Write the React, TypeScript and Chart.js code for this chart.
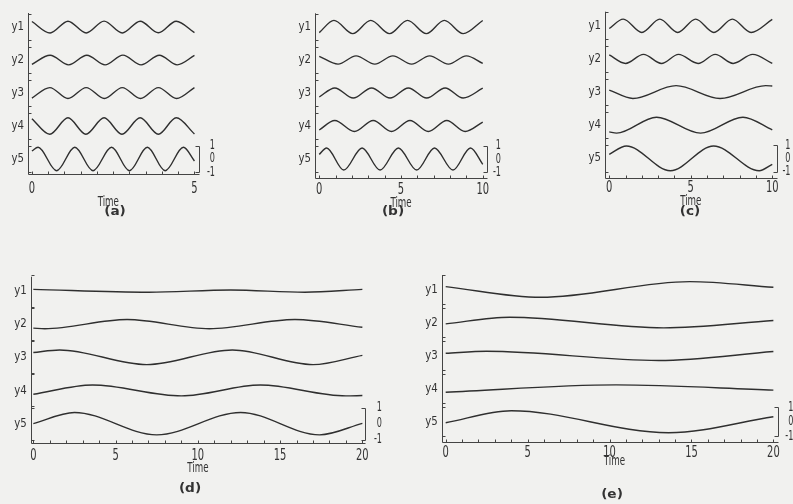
import React, { useEffect, useRef } from "react";
import { Chart, registerables } from "chart.js";

Chart.register(...registerables);

type Pt = [number, number];

// ---- Traces: [time, value] at the turning points of each response ----

// (a) 0..5
const A_Y1: Pt[] = [[0, 0.42], [0.56, -0.44], [1.11, 0.44], [1.67, -0.44], [2.22, 0.45], [2.78, -0.44], [3.33, 0.44], [3.89, -0.43], [4.44, 0.44], [5, -0.42]];
const A_Y2: Pt[] = [[0, -0.32], [0.56, 0.36], [1.13, -0.36], [1.69, 0.36], [2.25, -0.36], [2.8, 0.37], [3.36, -0.36], [3.92, 0.36], [4.47, -0.36], [5, 0.35]];
const A_Y3: Pt[] = [[0, -0.38], [0.55, 0.41], [1.11, -0.41], [1.67, 0.41], [2.23, -0.41], [2.78, 0.41], [3.34, -0.41], [3.89, 0.41], [4.45, -0.41], [5, 0.41]];
const A_Y4: Pt[] = [[0, 0.55], [0.55, -0.62], [1.11, 0.62], [1.66, -0.62], [2.22, 0.62], [2.77, -0.62], [3.33, 0.62], [3.89, -0.62], [4.44, 0.62], [5, -0.6]];
const A_Y5: Pt[] = [[0, 0.6], [0.19, 0.88], [0.76, -0.88], [1.32, 0.88], [1.88, -0.88], [2.45, 0.88], [3.0, -0.88], [3.55, 0.88], [4.1, -0.88], [4.66, 0.88], [5, -0.15]];

// (b) 0..10
const B_Y1: Pt[] = [[0, -0.42], [0.9, 0.5], [2.05, -0.5], [3.15, 0.5], [4.3, -0.5], [5.4, 0.5], [6.55, -0.5], [7.65, 0.5], [8.8, -0.5], [10, 0.49]];
const B_Y2: Pt[] = [[0, 0.28], [1.15, -0.31], [2.25, 0.31], [3.4, -0.31], [4.5, 0.31], [5.65, -0.31], [6.75, 0.31], [7.9, -0.31], [9.0, 0.31], [10, -0.25]];
const B_Y3: Pt[] = [[0, -0.3], [0.95, 0.38], [2.08, -0.38], [3.2, 0.38], [4.33, -0.38], [5.45, 0.38], [6.57, -0.38], [7.7, 0.38], [8.8, -0.38], [10, 0.36]];
const B_Y4: Pt[] = [[0, -0.3], [0.95, 0.41], [2.15, -0.41], [3.3, 0.41], [4.42, -0.41], [5.55, 0.41], [6.67, -0.41], [7.8, 0.41], [8.92, -0.41], [10, 0.3]];
const B_Y5: Pt[] = [[0, 0.35], [0.45, 0.83], [1.5, -0.83], [2.62, 0.83], [3.72, -0.83], [4.84, 0.83], [5.96, -0.83], [7.05, 0.83], [8.18, -0.83], [9.25, 0.83], [10, -0.4]];

// (c) 0..10
const C_Y1: Pt[] = [[0, -0.2], [0.86, 0.5], [2.0, -0.5], [3.1, 0.5], [4.2, -0.5], [5.3, 0.5], [6.42, -0.5], [7.55, 0.5], [8.7, -0.5], [10, 0.48]];
const C_Y2: Pt[] = [[0, 0.3], [1.0, -0.34], [2.1, 0.34], [3.2, -0.34], [4.25, 0.34], [5.45, -0.34], [6.5, 0.34], [7.6, -0.34], [8.8, 0.34], [10, -0.34]];
const C_Y3: Pt[] = [[0, 0.15], [1.45, -0.48], [4.1, 0.48], [6.8, -0.48], [9.6, 0.48], [10, 0.46]];
const C_Y4: Pt[] = [[0, -0.5], [0.45, -0.6], [2.9, 0.6], [5.6, -0.6], [8.2, 0.6], [10, -0.35]];
const C_Y5: Pt[] = [[0, 0.3], [1.05, 0.93], [3.75, -0.93], [6.4, 0.93], [9.2, -0.93], [10, -0.45]];

// (d) 0..20
const D_Y1: Pt[] = [[0, 0.1], [7, -0.08], [12, 0.06], [16.5, -0.08], [20, 0.1]];
const D_Y2: Pt[] = [[0, -0.25], [0.7, -0.29], [5.7, 0.29], [10.7, -0.29], [15.9, 0.29], [20, -0.2]];
const D_Y3: Pt[] = [[0, 0.3], [1.6, 0.46], [6.9, -0.46], [12.1, 0.46], [17, -0.46], [20, 0.12]];
const D_Y4: Pt[] = [[0, -0.24], [3.6, 0.34], [9.0, -0.34], [13.8, 0.34], [19, -0.34], [20, -0.32]];
const D_Y5: Pt[] = [[0, 0], [2.5, 0.7], [7.5, -0.7], [12.6, 0.7], [17.4, -0.7], [20, 0.02]];

// (e) 0..20
const E_Y1: Pt[] = [[0, 0.2], [5.8, -0.54], [14.9, 0.54], [20, 0.15]];
const E_Y2: Pt[] = [[0, -0.09], [3.9, 0.37], [13.3, -0.37], [20, 0.14]];
const E_Y3: Pt[] = [[0, 0.16], [2.5, 0.3], [13, -0.34], [20, 0.28]];
const E_Y4: Pt[] = [[0, -0.25], [10.4, 0.26], [20, -0.1]];
const E_Y5: Pt[] = [[0, -0.07], [4, 0.76], [13.6, -0.76], [20, 0.34]];

// ---- Labels ----
const ROW_LABELS = ["y1", "y2", "y3", "y4", "y5"];
const SCALE_VALUES = [1, 0, -1];
const SCALE_LABELS = ["1", "0", "-1"];
const TICKS_5 = [0, 5];
const TICKS_10 = [0, 5, 10];
const TICKS_20 = [0, 5, 10, 15, 20];
const AXIS_TITLE = "Time";

const BG = "#f1f1ef";
const INK = "#2f2f2f";
const AXIS_INK = "#444444";
const TEXT_INK = "#333333";

interface Panel {
  caption: string;
  captionAt: [number, number];
  box: [number, number, number, number]; // left, top, width, height (page px)
  area: [number, number, number, number]; // left, top, right, bottom (page px)
  x: [number, number];
  y: [number, number];
  step: number;
  series: Pt[][];
  ticks: number[];
  minor: number;
  tEnd: number;
  labelDy: number;
  titleDy: number;
  titleT: number;
  rightDx: number;
}

const PANELS: Panel[] = [
  {
    caption: "(a)", captionAt: [115, 212], box: [0, 0, 260, 225], area: [28, 13, 199, 174],
    x: [-0.12, 5.14], y: [-1.13, 10.98], step: 2.48, series: [A_Y1, A_Y2, A_Y3, A_Y4, A_Y5],
    ticks: TICKS_5, minor: 0.5, tEnd: 5, labelDy: 15, titleDy: 28, titleT: 2.35, rightDx: 16,
  },
  {
    caption: "(b)", captionAt: [393, 212], box: [260, 0, 260, 225], area: [315, 13.3, 487, 177.5],
    x: [-0.26, 10.26], y: [-1.39, 10.95], step: 2.48, series: [B_Y1, B_Y2, B_Y3, B_Y4, B_Y5],
    ticks: TICKS_10, minor: 1, tEnd: 10, labelDy: 12.5, titleDy: 26, titleT: 5, rightDx: 14,
  },
  {
    caption: "(c)", captionAt: [690, 212], box: [520, 0, 273, 225], area: [605, 11.7, 777, 178],
    x: [-0.26, 10.29], y: [-1.48, 11.02], step: 2.49, series: [C_Y1, C_Y2, C_Y3, C_Y4, C_Y5],
    ticks: TICKS_10, minor: 1, tEnd: 10, labelDy: 9.5, titleDy: 23.7, titleT: 5, rightDx: 13.5,
  },
  {
    caption: "(d)", captionAt: [190, 489], box: [0, 240, 400, 264], area: [30.7, 276.7, 365, 443.3],
    x: [-0.16, 20.16], y: [-1.23, 9.19], step: 2.075, series: [D_Y1, D_Y2, D_Y3, D_Y4, D_Y5],
    ticks: TICKS_20, minor: 1, tEnd: 20, labelDy: 12.7, titleDy: 24.7, titleT: 10, rightDx: 17,
  },
  {
    caption: "(e)", captionAt: [612, 495], box: [400, 240, 393, 264], area: [441.7, 275, 778.3, 441.7],
    x: [-0.244, 20.3], y: [-1.38, 10.12], step: 2.28, series: [E_Y1, E_Y2, E_Y3, E_Y4, E_Y5],
    ticks: TICKS_20, minor: 1, tEnd: 20, labelDy: 11, titleDy: 20, titleT: 10.3, rightDx: 15,
  },
];

function drawText(
  ctx: CanvasRenderingContext2D, text: string, x: number, y: number,
  size: number, sx: number, align: CanvasTextAlign, font = '"DejaVu Sans", sans-serif', weight = "normal"
) {
  ctx.save();
  ctx.translate(x, y);
  ctx.scale(sx, 1);
  ctx.font = `${weight} ${size}px ${font}`;
  ctx.textAlign = align;
  ctx.textBaseline = "middle";
  ctx.fillStyle = TEXT_INK;
  ctx.fillText(text, 0, 0);
  ctx.restore();
}

const crisp = (v: number) => Math.round(v) + 0.5;

function seg(ctx: CanvasRenderingContext2D, x1: number, y1: number, x2: number, y2: number) {
  ctx.beginPath();
  ctx.moveTo(x1, y1);
  ctx.lineTo(x2, y2);
  ctx.stroke();
}

function PanelChart({ panel }: { panel: Panel }) {
  const ref = useRef<HTMLCanvasElement | null>(null);
  const [bl, bt, bw, bh] = panel.box;

  useEffect(() => {
    if (!ref.current) return;
    const [al, at, ar, ab] = panel.area;
    const rows = panel.series.length;
    const centre = (i: number) => (rows - 1 - i) * panel.step;

    const frame = {
      id: "stackFrame",
      afterDatasetsDraw(chart: any) {
        const { ctx, chartArea: a, scales } = chart;
        const xs = scales.x;
        const ys = scales.y;
        ctx.save();
        ctx.strokeStyle = AXIS_INK;
        ctx.lineWidth = 1;
        const L = crisp(a.left);
        const B = crisp(a.bottom);
        const R = crisp(a.right);
        // left axis with a bracket for each row
        seg(ctx, L, a.top, L, B);
        for (let i = 0; i < rows; i++) {
          for (const v of [centre(i) + 1, centre(i) - 1]) {
            const py = crisp(ys.getPixelForValue(v));
            seg(ctx, L, py, L + 3, py);
          }
        }
        // time axis with inward ticks
        seg(ctx, L, B, R, B);
        for (let t = 0; t <= panel.tEnd + 1e-9; t += panel.minor) {
          const px = crisp(xs.getPixelForValue(t));
          seg(ctx, px, B, px, B - 3);
        }
        // amplitude bracket beside the last row
        const top = crisp(ys.getPixelForValue(1));
        const bot = crisp(ys.getPixelForValue(-1));
        seg(ctx, R, top, R, bot);
        seg(ctx, R - 4, top, R, top);
        seg(ctx, R - 4, bot, R, bot);
        ctx.restore();

        // text
        ROW_LABELS.forEach((lab, i) => {
          drawText(ctx, lab, a.left - 4, ys.getPixelForValue(centre(i)), 12, 0.85, "right");
        });
        SCALE_VALUES.forEach((v, i) => {
          drawText(ctx, SCALE_LABELS[i], a.right + panel.rightDx, ys.getPixelForValue(v), 13.5, 0.6, "right");
        });
        panel.ticks.forEach((t) => {
          drawText(ctx, String(t), xs.getPixelForValue(t), a.bottom + panel.labelDy, 16, 0.62, "center");
        });
        drawText(ctx, AXIS_TITLE, xs.getPixelForValue(panel.titleT), a.bottom + panel.titleDy, 14, 0.62, "center");
        drawText(ctx, panel.caption, panel.captionAt[0] - bl, panel.captionAt[1] - bt, 13, 1.05,
          "center", '"DejaVu Sans", sans-serif', "bold");
      },
    };

    const chart = new Chart(ref.current, {
      type: "line",
      data: {
        datasets: panel.series.map((s, i) => ({
          label: ROW_LABELS[i],
          data: s.map(([t, v]) => ({ x: t, y: v + centre(i) })),
          borderColor: INK,
          borderWidth: 1.4,
          pointRadius: 0,
          fill: false,
          cubicInterpolationMode: "monotone" as const,
        })),
      },
      options: {
        responsive: false,
        animation: false,
        events: [],
        layout: {
          padding: { left: al - bl, top: at - bt, right: bl + bw - ar, bottom: bt + bh - ab },
        },
        plugins: { legend: { display: false }, tooltip: { enabled: false } },
        scales: {
          x: { type: "linear", min: panel.x[0], max: panel.x[1], display: false },
          y: { type: "linear", min: panel.y[0], max: panel.y[1], display: false },
        },
      },
      plugins: [frame],
    });
    return () => chart.destroy();
  }, [panel]);

  return (
    <canvas
      ref={ref}
      width={bw}
      height={bh}
      style={{ position: "absolute", left: bl, top: bt, width: bw, height: bh }}
    />
  );
}

export default function App() {
  return (
    <div
      style={{
        position: "absolute",
        left: 0,
        top: 0,
        width: 793,
        height: 504,
        background: BG,
        overflow: "hidden",
      }}
    >
      {PANELS.map((p) => (
        <PanelChart key={p.caption} panel={p} />
      ))}
    </div>
  );
}
